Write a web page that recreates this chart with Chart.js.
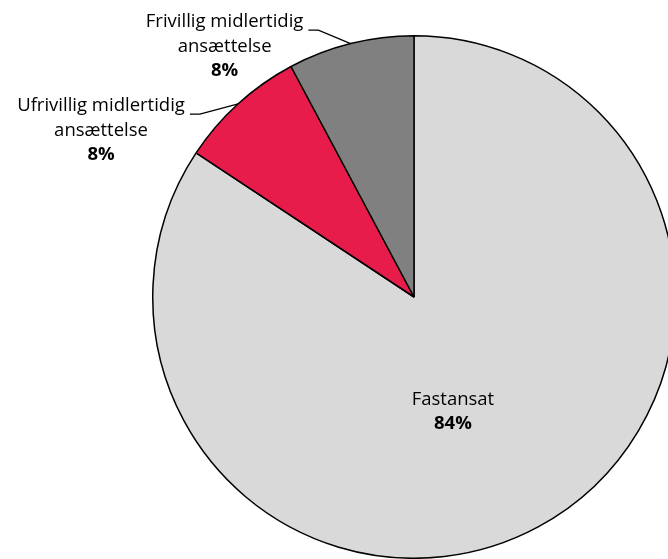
<!DOCTYPE html>
<html>
<head>
<meta charset="utf-8">
<script src="https://cdn.jsdelivr.net/npm/chart.js@4"></script>
<style>
  html, body { margin: 0; padding: 0; background: #fff; overflow: hidden; }
  #wrap { position: relative; width: 828px; height: 559px; }
</style>
</head>
<body>
<div id="wrap"><canvas id="chart"></canvas></div>
<script>
const categories = ['Fastansat', 'Ufrivillig midlertidig ansættelse', 'Frivillig midlertidig ansættelse'];
const values = [84.3, 7.9, 7.8];
const pctLabels = ['84%', '8%', '8%'];
const colors = ['#d9d9d9', '#e81c4a', '#808080'];

const FONT = '"Open Sans", sans-serif';
const SIZE = 18.5;

// label placement, in units of the pie radius, relative to the centre
const labelPlace = [
  { inside: true, dx: 0.149, dy: 0.44, lines: ['Fastansat'] },
  { inside: false, dx: -1.198, dy: -0.637, lines: ['Ufrivillig midlertidig', 'ansættelse'] },
  { inside: false, dx: -0.725, dy: -0.958, lines: ['Frivillig midlertidig', 'ansættelse'] }
];

const labelPlugin = {
  id: 'pieLabels',
  afterDraw(chart) {
    const ctx = chart.ctx;
    const arcs = chart.getDatasetMeta(0).data;
    ctx.save();
    ctx.textAlign = 'center';
    ctx.textBaseline = 'middle';
    arcs.forEach((arc, i) => {
      const { x, y, outerRadius, startAngle, endAngle } = arc.getProps(['x', 'y', 'outerRadius', 'startAngle', 'endAngle'], true);
      const p = labelPlace[i];
      const cx = x + p.dx * outerRadius;
      const cy = y + p.dy * outerRadius;
      const lh = 24.5;
      const lines = p.lines.concat([pctLabels[i]]);
      const top = cy - (lines.length - 1) * lh / 2;
      ctx.fillStyle = '#000';
      lines.forEach((t, k) => {
        ctx.font = (k === lines.length - 1 ? 'bold ' : '') + SIZE + 'px ' + FONT;
        ctx.fillText(t, cx, top + k * lh);
      });
      if (!p.inside) {
        ctx.font = SIZE + 'px ' + FONT;
        const w = ctx.measureText(p.lines[0]).width;
        const sx = cx + w / 2 + 5;
        const sy = top + 8;
        const mid = (startAngle + endAngle) / 2;
        const ex = x + Math.cos(mid) * outerRadius;
        const ey = y + Math.sin(mid) * outerRadius;
        ctx.beginPath();
        ctx.strokeStyle = '#000';
        ctx.lineWidth = 1.3;
        ctx.moveTo(sx, sy);
        ctx.lineTo(sx + 10, sy);
        ctx.lineTo(ex, ey);
        ctx.stroke();
      }
    });
    ctx.restore();
  }
};

new Chart(document.getElementById('chart').getContext('2d'), {
  type: 'pie',
  data: {
    labels: categories,
    datasets: [{
      data: values,
      backgroundColor: colors,
      borderColor: '#000',
      borderWidth: 1.5
    }]
  },
  options: {
    responsive: true,
    maintainAspectRatio: false,
    animation: false,
    layout: { padding: { top: 35, bottom: 0, left: 152, right: 152 } },
    plugins: { legend: { display: false }, tooltip: { enabled: false } }
  },
  plugins: [labelPlugin]
});
</script>
</body>
</html>
